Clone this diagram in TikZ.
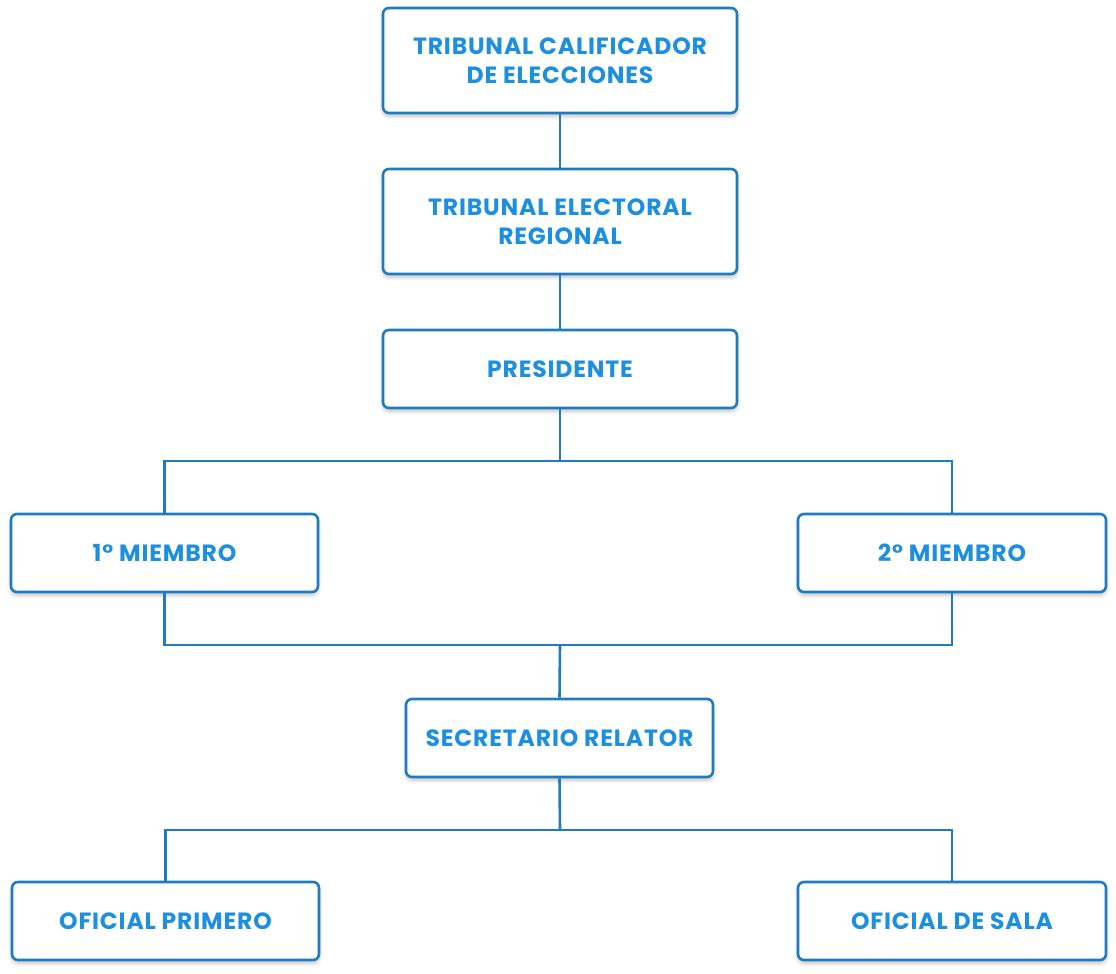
\documentclass[tikz,border=0pt]{standalone}
\usepackage{fontspec}
\setmainfont{Poppins}[BoldFont={* Bold}, LetterSpace=3.6]
\usetikzlibrary{shadows.blur}
\definecolor{edgeblue}{HTML}{1F7BBF}
\definecolor{textblue}{HTML}{1C8FE0}
\begin{document}
\begin{tikzpicture}[x=1pt,y=-1pt,
  box/.style={draw=edgeblue, line width=2.6pt, rounded corners=6pt, fill=white,
    blur shadow={shadow blur steps=6, shadow xshift=0pt, shadow yshift=-3pt, shadow opacity=25, shadow blur radius=4pt},
    font=\fontsize{23.5}{29}\selectfont\bfseries, text=textblue, align=center, inner sep=0pt},
  link/.style={draw=edgeblue, line width=2.6pt}]
\useasboundingbox (0,0) rectangle (1116,974);
\node[box, minimum width=354pt, minimum height=105pt] (tce) at (560,60.5) {TRIBUNAL CALIFICADOR\\DE ELECCIONES};
\node[box, minimum width=354pt, minimum height=105pt] (ter) at (560,221.5) {TRIBUNAL ELECTORAL\\REGIONAL};
\node[box, minimum width=354pt, minimum height=78pt] (pre) at (560,369) {PRESIDENTE};
\node[box, minimum width=307pt, minimum height=78pt] (m1) at (164.5,553) {1° MIEMBRO};
\node[box, minimum width=308pt, minimum height=78pt] (m2) at (952,553) {2° MIEMBRO};
\node[box, minimum width=307pt, minimum height=78pt] (sr) at (559.5,738) {SECRETARIO RELATOR};
\node[box, minimum width=307pt, minimum height=78pt] (op) at (165.5,921) {OFICIAL PRIMERO};
\node[box, minimum width=308pt, minimum height=78pt] (os) at (952,921) {OFICIAL DE SALA};
\coordinate (j1) at (560,461);
\coordinate (j2) at (560,645);
\coordinate (j3) at (560,830);
\draw[link] (tce.south) -- (ter.north);
\draw[link] (ter.south) -- (pre.north);
\draw[link] (pre.south) -- (j1);
\draw[link] (m1.north) |- (j1) -| (m2.north);
\draw[link] (m1.south) |- (j2) -| (m2.south);
\draw[link] (j2) -- (sr.north);
\draw[link] (sr.south) -- (j3);
\draw[link] (op.north) |- (j3) -| (os.north);
\end{tikzpicture}
\end{document}
